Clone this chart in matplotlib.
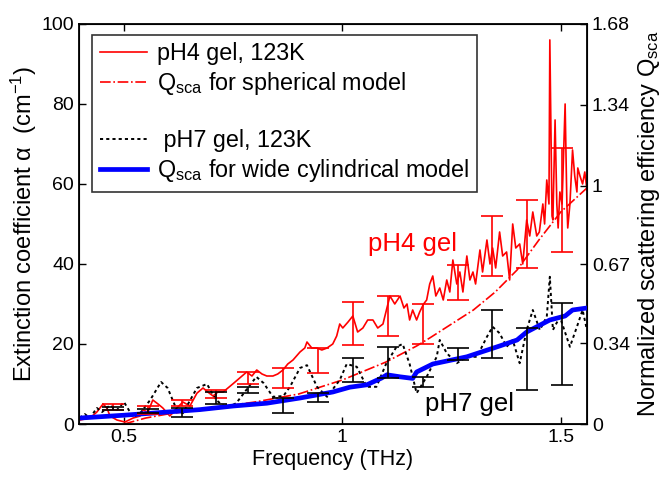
import numpy as np
import matplotlib
matplotlib.use('Agg')
import matplotlib.pyplot as plt
from matplotlib.lines import Line2D

plt.rcParams['font.family'] = ['Liberation Sans', 'DejaVu Sans']
plt.rcParams['mathtext.default'] = 'regular'

# pH4 gel measured extinction (THz, cm^-1)
ph4_freq = [0.399, 0.422, 0.438, 0.452, 0.461, 0.468, 0.484, 0.502, 0.521, 0.537,
            0.543, 0.555, 0.566, 0.578, 0.589, 0.605, 0.621, 0.635, 0.651, 0.667,
            0.681, 0.692, 0.704, 0.715, 0.727, 0.738, 0.749, 0.765, 0.781, 0.793,
            0.804, 0.816, 0.827, 0.841, 0.852, 0.864, 0.875, 0.887, 0.903, 0.914,
            0.919, 0.930, 0.942, 0.953, 0.965, 0.978, 0.987, 0.994, 1.001, 1.013,
            1.024, 1.035, 1.047, 1.058, 1.070, 1.081, 1.093, 1.102, 1.109, 1.120,
            1.132, 1.141, 1.148, 1.154, 1.161, 1.170, 1.177, 1.186, 1.193, 1.200,
            1.207, 1.214, 1.223, 1.231, 1.239, 1.246, 1.253, 1.262, 1.269, 1.276,
            1.285, 1.292, 1.299, 1.305, 1.315, 1.321, 1.331, 1.338, 1.344, 1.351,
            1.360, 1.367, 1.376, 1.383, 1.390, 1.397, 1.406, 1.413, 1.422, 1.429,
            1.436, 1.445, 1.451, 1.459, 1.463, 1.468, 1.473, 1.475, 1.480, 1.482,
            1.487, 1.491, 1.494, 1.498, 1.503, 1.510, 1.514, 1.516, 1.521, 1.527,
            1.532, 1.537, 1.539, 1.544, 1.550, 1.555, 1.560]
ph4_alpha = [1.0, 1.5, 3.0, 5.0, 4.0, 2.0, 1.0, 0.5, 1.5, 2.0,
             3.5, 3.0, 6.0, 5.0, 4.0, 2.0, 4.0, 5.5, 4.5, 7.7,
             9.0, 8.0, 7.0, 8.0, 8.0, 9.0, 10.0, 11.5, 13.0, 12.0,
             13.5, 12.5, 12.0, 12.0, 12.5, 13.5, 15.0, 16.0, 18.0, 19.0,
             20.5, 19.0, 19.0, 18.5, 19.0, 20.0, 22.0, 25.0, 24.0, 25.5,
             27.0, 23.0, 24.0, 26.0, 26.0, 24.0, 25.0, 29.0, 32.0, 30.0,
             32.0, 29.0, 30.0, 26.0, 28.5, 26.0, 28.0, 30.0, 31.0, 35.0,
             37.0, 32.0, 34.0, 31.0, 36.0, 33.0, 41.0, 35.0, 38.0, 33.0,
             42.0, 36.0, 38.0, 35.0, 43.5, 38.0, 46.0, 40.0, 44.0, 39.0,
             48.0, 42.0, 43.0, 36.0, 50.0, 44.0, 45.0, 40.0, 51.0, 47.0,
             53.0, 47.0, 48.0, 55.0, 50.0, 61.0, 55.0, 96.0, 52.0, 51.0,
             76.0, 55.0, 49.0, 58.0, 55.0, 80.0, 55.0, 49.0, 55.0, 68.5,
             62.0, 58.0, 64.0, 62.0, 60.0, 63.0, 58.5]

# spherical model (scaled to alpha axis)
sph_freq = [0.50, 0.55, 0.60, 0.70, 0.80, 0.90, 1.00, 1.10, 1.17, 1.20,
            1.25, 1.30, 1.35, 1.40, 1.45, 1.50, 1.56]
sph_alpha = [0.0, 1.5, 2.5, 4.0, 5.5, 7.5, 11.0, 15.5, 19.5, 21.5,
             25.0, 28.5, 33.0, 38.5, 46.0, 53.0, 59.0]

# pH7 gel measured extinction
ph7_freq = [0.399, 0.410, 0.422, 0.438, 0.450, 0.468, 0.484, 0.500, 0.521, 0.537,
            0.560, 0.585, 0.600, 0.621, 0.635, 0.667, 0.690, 0.711, 0.734, 0.757,
            0.780, 0.803, 0.820, 0.841, 0.865, 0.880, 0.903, 0.919, 0.942, 0.965,
            0.994, 1.010, 1.033, 1.056, 1.078, 1.100, 1.124, 1.138, 1.154, 1.170,
            1.193, 1.216, 1.223, 1.239, 1.262, 1.285, 1.308, 1.331, 1.344, 1.360,
            1.376, 1.390, 1.406, 1.422, 1.436, 1.452, 1.468, 1.475, 1.482, 1.498,
            1.521, 1.537, 1.550, 1.560]
ph7_alpha = [1.5, 2.5, 1.5, 4.0, 3.0, 4.7, 3.5, 5.5, 1.7, 2.7,
             6.0, 10.5, 9.0, 3.5, 2.7, 9.0, 10.0, 6.0, 4.0, 5.2,
             8.5, 11.8, 10.2, 6.8, 7.0, 9.3, 14.0, 14.7, 9.3, 6.8,
             11.0, 15.0, 14.3, 9.3, 9.3, 15.0, 19.3, 20.0, 15.0, 7.7,
             11.8, 16.8, 21.0, 17.7, 15.2, 16.8, 16.8, 21.8, 24.3, 22.7,
             19.3, 21.0, 15.2, 23.5, 28.5, 23.5, 26.8, 36.8, 23.5, 26.8,
             19.3, 24.3, 28.5, 23.5]

# wide cylindrical model
cyl_freq = [0.40, 0.50, 0.60, 0.674, 0.75, 0.827, 0.903, 0.978, 1.017, 1.056,
            1.090, 1.102, 1.132, 1.161, 1.170, 1.207, 1.285, 1.360, 1.400, 1.422,
            1.475, 1.510, 1.527, 1.560]
cyl_alpha = [1.5, 2.2, 3.0, 3.6, 4.5, 5.2, 6.5, 8.0, 9.2, 9.8,
             11.5, 12.3, 11.8, 11.4, 13.0, 15.0, 16.8, 19.5, 21.0, 23.0,
             26.0, 27.0, 28.5, 29.0]

# error bars (low / high)
eb_freq = [0.475, 0.555, 0.633, 0.710, 0.784, 0.864, 0.944, 1.024, 1.104, 1.184,
           1.264, 1.342, 1.422, 1.502]
ph4_lo = [3.5, 2.5, 4.5, 6.5, 10.0, 9.0, 12.8, 19.8, 22.0, 20.0, 31.0, 37.0, 39.0, 43.0]
ph4_hi = [5.0, 4.5, 6.0, 8.5, 13.0, 14.0, 19.0, 30.5, 32.0, 30.0, 39.7, 52.0, 56.0, 69.0]
ph7_lo = [3.5, 2.7, 1.7, 5.0, 7.7, 2.7, 5.5, 10.5, 11.5, 9.3, 16.0, 16.5, 8.5, 9.7]
ph7_hi = [4.3, 3.7, 4.0, 8.0, 9.2, 6.5, 7.7, 16.5, 19.3, 11.8, 19.0, 28.5, 24.0, 30.2]

q_ticks = [0, 0.34, 0.67, 1, 1.34, 1.68]
q_ticklabels = ['0', '0.34', '0.67', '1', '1.34', '1.68']

dot_style = (0, (1.6, 1.6))

fig = plt.figure(figsize=(6.67, 4.79), dpi=100)
ax = fig.add_axes([0.1184, 0.1148, 0.7616, 0.8352])

ax.plot(ph4_freq, ph4_alpha, color='red', lw=1.2, zorder=2)
ax.plot(sph_freq, sph_alpha, color='red', lw=1.2, ls='-.', zorder=2)
ax.plot(ph7_freq, ph7_alpha, color='black', lw=1.4, ls=dot_style, zorder=3)
ax.plot(cyl_freq, cyl_alpha, color='blue', lw=3.4, zorder=4)

lo, hi = np.array(ph4_lo), np.array(ph4_hi)
ax.errorbar(eb_freq, (lo + hi) / 2, yerr=(hi - lo) / 2, fmt='none',
            ecolor='red', elinewidth=1.2, capsize=8, capthick=1.2, zorder=5)
lo, hi = np.array(ph7_lo), np.array(ph7_hi)
ax.errorbar(eb_freq, (lo + hi) / 2, yerr=(hi - lo) / 2, fmt='none',
            ecolor='black', elinewidth=1.2, capsize=8, capthick=1.2, zorder=6)

ax.set_xlim(0.397, 1.56)
ax.set_ylim(0, 100)
ax.set_xticks([0.5, 1, 1.5])
ax.set_xticklabels(['0.5', '1', '1.5'])
ax.set_yticks([0, 20, 40, 60, 80, 100])
ax.tick_params(direction='in', labelsize=14, top=True, length=5, width=1)
for s in ax.spines.values():
    s.set_linewidth(1.3)
ax.set_xlabel('Frequency (THz)', fontsize=15.5, labelpad=2)
ax.set_ylabel(r'Extinction coefficient $\alpha$  (cm$^{-1}$)', fontsize=17, labelpad=2)

ax.text(1.16, 45, 'pH4 gel', color='red', fontsize=18.5, ha='center', va='center')
ax.text(1.29, 5, 'pH7 gel', color='black', fontsize=18.5, ha='center', va='center')

ax2 = ax.twinx()
ax2.set_ylim(0, 1.68)
ax2.set_yticks(q_ticks)
ax2.set_yticklabels(q_ticklabels)
ax2.tick_params(direction='in', labelsize=14, length=5, width=1)
ax2.set_ylabel('Normalized scattering efficiency Q$_{sca}$', fontsize=17, labelpad=4)

handles = [
    Line2D([], [], color='red', lw=1.2),
    Line2D([], [], color='red', lw=1.2, ls='-.'),
    Line2D([], [], color='none'),
    Line2D([], [], color='black', lw=1.4, ls=dot_style),
    Line2D([], [], color='blue', lw=3.4),
]
labels = ['pH4 gel, 123K', 'Q$_{sca}$ for spherical model', ' ',
          ' pH7 gel, 123K', 'Q$_{sca}$ for wide cylindrical model']
leg = ax2.legend(handles, labels, loc='upper left', bbox_to_anchor=(0.026, 0.973),
                 fontsize=16.8, frameon=True, fancybox=False, edgecolor='black',
                 handlelength=2.0, handletextpad=0.45, borderpad=0.33,
                 labelspacing=0.2, borderaxespad=0)
leg.get_frame().set_linewidth(1.2)

fig.savefig('out.png', dpi=100)
